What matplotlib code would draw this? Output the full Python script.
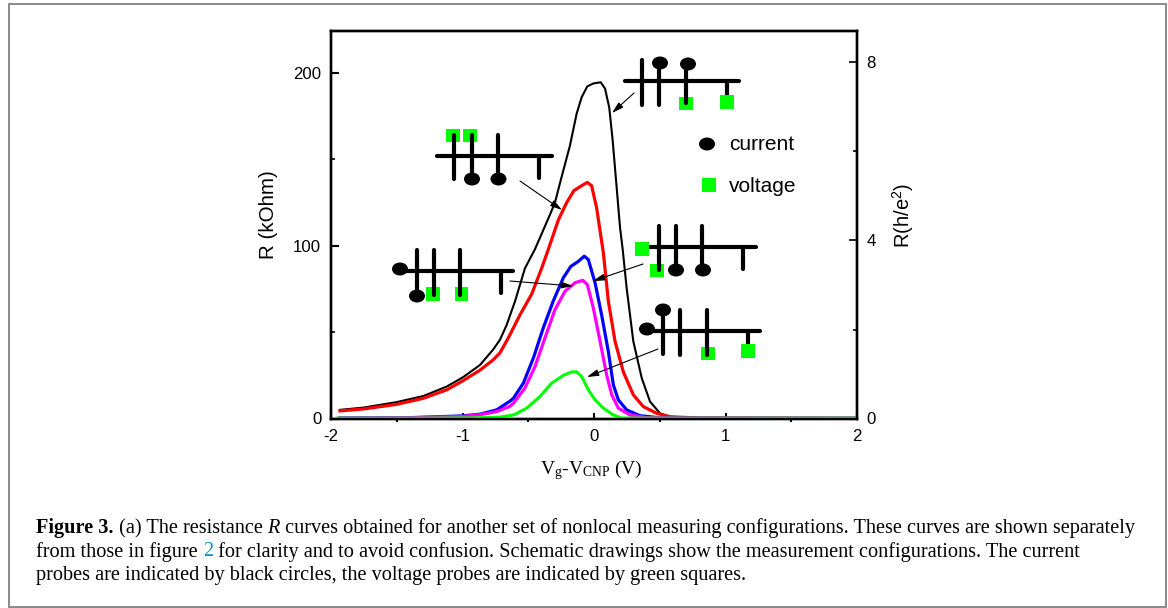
import matplotlib
matplotlib.use("Agg")
import matplotlib.pyplot as plt
from matplotlib.patches import Ellipse, Rectangle, FancyArrowPatch

W, H = 1168, 608
SANS = "Liberation Sans"
SERIF = "Liberation Serif"
plt.rcParams["mathtext.fontset"] = "custom"
plt.rcParams["mathtext.rm"] = SERIF
plt.rcParams["mathtext.it"] = SERIF + ":italic"
plt.rcParams["mathtext.bf"] = SERIF + ":bold"
plt.rcParams["mathtext.sf"] = SANS

# ---- data -----------------------------------------------------------------
black_x = [-1.932, -1.754, -1.5, -1.298, -1.12, -0.994, -0.867, -0.766, -0.715, -0.665, -0.6, -0.525, -0.449, -0.335, -0.297, -0.246, -0.183, -0.132, -0.094, -0.051, -0.005, 0.051, 0.084, 0.116, 0.142, 0.172, 0.198, 0.218, 0.248, 0.299, 0.363, 0.426, 0.502, 0.578, 0.8, 2.0]
black_y = [5, 6.3, 9.5, 13, 18.5, 24, 31, 40, 45.6, 54, 68, 87, 98, 118, 125, 140, 158, 176.5, 186, 192.3, 194, 194.7, 191, 180, 161, 134, 110.6, 98, 75.7, 44.7, 23.4, 9.8, 3, 1, 0.3, 0.1]
red_x = [-1.932, -1.754, -1.5, -1.298, -1.12, -0.994, -0.867, -0.766, -0.715, -0.652, -0.563, -0.474, -0.398, -0.347, -0.271, -0.208, -0.152, -0.094, -0.051, -0.018, 0.02, 0.05, 0.071, 0.109, 0.16, 0.223, 0.299, 0.375, 0.477, 0.578, 0.8, 2.0]
red_y = [4.4, 5.5, 8.2, 11.7, 16.6, 22, 28, 34, 38, 46.6, 60, 72, 87, 98, 115, 125, 132, 134.8, 136.7, 134.8, 122, 106.7, 96, 68, 44.7, 27, 13.7, 6.9, 3, 1, 0.3, 0.1]
blue_x = [-1.932, -1.4, -1.0, -0.867, -0.74, -0.64, -0.613, -0.537, -0.461, -0.386, -0.31, -0.233, -0.177, -0.119, -0.074, -0.043, 0.008, 0.058, 0.109, 0.147, 0.185, 0.248, 0.35, 0.502, 0.8, 2.0]
blue_y = [0.3, 0.5, 1.5, 2.5, 5, 10, 11.7, 20.5, 35, 52.4, 68, 81.5, 88, 91, 94, 92, 78.6, 60, 38.8, 19.5, 10.8, 5, 1.6, 0.4, 0.2, 0.1]
magenta_x = [-1.932, -1.4, -1.0, -0.867, -0.74, -0.64, -0.613, -0.525, -0.449, -0.373, -0.297, -0.22, -0.144, -0.086, -0.051, -0.005, 0.046, 0.097, 0.135, 0.185, 0.274, 0.4, 0.8, 2.0]
magenta_y = [0.2, 0.4, 1.2, 2.2, 4, 7, 8.8, 17.6, 30, 46.6, 63, 73.7, 78.6, 80, 77.6, 64, 44.7, 25, 13.7, 6, 2, 0.5, 0.2, 0.1]
green_x = [-1.95, -1.3, -0.9, -0.715, -0.613, -0.512, -0.411, -0.322, -0.233, -0.17, -0.132, -0.094, -0.043, 0.008, 0.071, 0.147, 0.21, 0.5, 2.0]
green_y = [0.2, 0.2, 0.4, 0.8, 2, 6, 12.7, 20.5, 25, 27, 27, 24.3, 16.6, 10.8, 6, 2, 0.3, 0.2, 0.2]

x_ticks = [-2, -1, 0, 1, 2]
x_minor = [-1.5, -0.5, 0.5, 1.5]
y_ticks = [0, 100, 200]
y_minor = [50, 150]
y2_ticks = [0, 4, 8]
y2_minor = [2, 6]

# schematic probes, in picture pixels
wires = [
    [(625, 81, 739, 81), (642, 60, 642, 105), (659, 63, 659, 105), (686, 63, 686, 103), (727, 81, 727, 100)],
    [(437, 156, 552, 156), (454, 135, 454, 179), (472, 135, 472, 179), (498, 135, 498, 179), (539, 156, 539, 178)],
    [(400, 271, 513, 271), (417, 250, 417, 295), (434, 250, 434, 295), (460, 250, 460, 295), (501, 271, 501, 293)],
    [(642, 247, 756, 247), (659, 226, 659, 270), (676, 226, 676, 270), (702, 226, 702, 270), (743, 247, 743, 269)],
    [(647, 331, 760, 331), (663, 311, 663, 354), (680, 310, 680, 355), (707, 310, 707, 355), (748, 331, 748, 350)],
]
circles = [(660, 63), (688, 64), (472, 179), (498.5, 179), (400, 269), (417, 296),
           (676, 270), (703, 270), (647, 329), (663, 310), (707, 144)]
squares_under = [(453, 135.5), (470, 135.5), (686, 103.5), (433, 294), (461.5, 294), (657, 270.5), (708, 353.7)]
squares_over = [(727, 102), (642, 249), (748, 351), (709, 185)]
arrows = [((634, 93), (612, 113)), ((520, 181), (562, 210)), ((510, 281), (573, 286)),
          ((643, 264), (593, 281)), ((658, 349), (587, 377))]

caption = [
    [("Figure 3.", "bold", "normal", "k"), (" (a) The resistance ", "normal", "normal", "k"), ("R", "normal", "italic", "k"),
     (" curves obtained for another set of nonlocal measuring configurations. These curves are shown separately", "normal", "normal", "k")],
    [("from those in figure ", "normal", "normal", "k"), ("2", "normal", "normal", "#1f8fc0"),
     (" for clarity and to avoid confusion. Schematic drawings show the measurement configurations. The current", "normal", "normal", "k")],
    [("probes are indicated by black circles, the voltage probes are indicated by green squares.", "normal", "normal", "k")],
]

# ---- figure ----------------------------------------------------------------
fig = plt.figure(figsize=(W / 100, H / 100), dpi=100)
L, R, T, B = 331, 857, 30.7, 418.5
ax = fig.add_axes([L / W, 1 - B / H, (R - L) / W, (B - T) / H])
ax.set_xlim(-2, 2)
ax.set_ylim(0, (B - T) / 1.727)

ax.plot(black_x, black_y, color="k", lw=1.5, zorder=3)
ax.plot(red_x, red_y, color="#ff0000", lw=2.3, zorder=3.1)
ax.plot(blue_x, blue_y, color="#0000ff", lw=2.3, zorder=3.2)
ax.plot(magenta_x, magenta_y, color="#ff00ff", lw=2.3, zorder=3.3)
ax.plot(green_x, green_y, color="#00ff00", lw=2.2, zorder=3.4)

ax.set_xticks(x_ticks)
ax.set_xticks(x_minor, minor=True)
ax.set_yticks(y_ticks)
ax.set_yticks(y_minor, minor=True)
ax.tick_params(axis="x", which="major", direction="in", length=4, width=1.5, labelsize=12.1, pad=7.5)
ax.tick_params(axis="x", which="minor", direction="out", length=2.5, width=1.5)
ax.tick_params(axis="y", which="major", direction="in", length=6, width=1.5, labelsize=12.1, pad=7)
ax.tick_params(axis="y", which="minor", direction="in", length=3, width=1.2)
ax.set_xticklabels(["-2", "-1", "0", "1", "2"])
for lab in ax.get_xticklabels() + ax.get_yticklabels():
    lab.set_family(SANS)

ax2 = ax.twinx()
ax2.set_ylim(0, (B - T) / 44.5)
ax2.set_yticks(y2_ticks)
ax2.set_yticks(y2_minor, minor=True)
ax2.tick_params(axis="y", which="major", direction="in", length=6, width=1.2, labelsize=12.1, pad=7)
ax2.tick_params(axis="y", which="minor", direction="in", length=3, width=1.2)
for lab in ax2.get_yticklabels():
    lab.set_family(SANS)
for a in (ax, ax2):
    for s in a.spines.values():
        s.set_linewidth(1.7)

def fx(px):
    return px / W

def fy(py):
    return 1 - py / H

# outer frame
fig.add_artist(Rectangle((fx(8.5), fy(606.5)), 1157 / W, 603 / H, transform=fig.transFigure,
                         fill=False, ec="#808080", lw=1.3))

# overlay for the drawings
ov = fig.add_axes([0, 0, 1, 1], facecolor="none")
ov.set_xlim(0, W)
ov.set_ylim(H, 0)
ov.axis("off")
SQ = 13.5
for x, y in squares_under:
    ov.add_patch(Rectangle((x - SQ / 2, y - SQ / 2), SQ, SQ, fc="#00ff00", ec="none", zorder=4))
for group in wires:
    for x0, y0, x1, y1 in group:
        ov.plot([x0, x1], [y0, y1], color="k", lw=3.0, solid_capstyle="round", zorder=5)
for x, y in squares_over:
    ov.add_patch(Rectangle((x - SQ / 2, y - SQ / 2), SQ, SQ, fc="#00ff00", ec="none", zorder=6))
for x, y in circles:
    ov.add_patch(Ellipse((x, y), 16, 13, fc="k", ec="none", zorder=6))
for start, end in arrows:
    ov.add_patch(FancyArrowPatch(start, end, arrowstyle="-|>,head_length=0.7,head_width=0.2", mutation_scale=10,
                                 lw=0.8, color="k", shrinkA=0, shrinkB=0, zorder=7))

# texts
fig.text(fx(729), fy(145), "current", family=SANS, fontsize=15, va="center", ha="left")
fig.text(fx(729), fy(186), "voltage", family=SANS, fontsize=15, va="center", ha="left")
fig.text(fx(268), fy(215), "R (kOhm)", family=SANS, fontsize=14.8, rotation=90, va="center", ha="center")
fig.text(fx(903), fy(215), r"R(h/e$^{\mathsf{2}}$)", family=SANS, fontsize=14.5, rotation=90, va="center", ha="center")
fig.text(fx(591), fy(470), r"V$_{\mathrm{g}}$-V$_{\mathrm{CNP}}$ (V)", family=SERIF, fontsize=14, va="center", ha="center")

fig.canvas.draw()
rend = fig.canvas.get_renderer()
CAP_SIZE = 14.55
for row, py in zip(caption, (533, 556.5, 580)):
    cur = 36
    for txt, weight, style, col in row:
        t = fig.text(fx(cur), fy(py), txt, family=SERIF, fontsize=CAP_SIZE, weight=weight, style=style,
                     color=col, va="baseline", ha="left")
        cur += t.get_window_extent(rend).width

fig.savefig("out.png", dpi=100)
